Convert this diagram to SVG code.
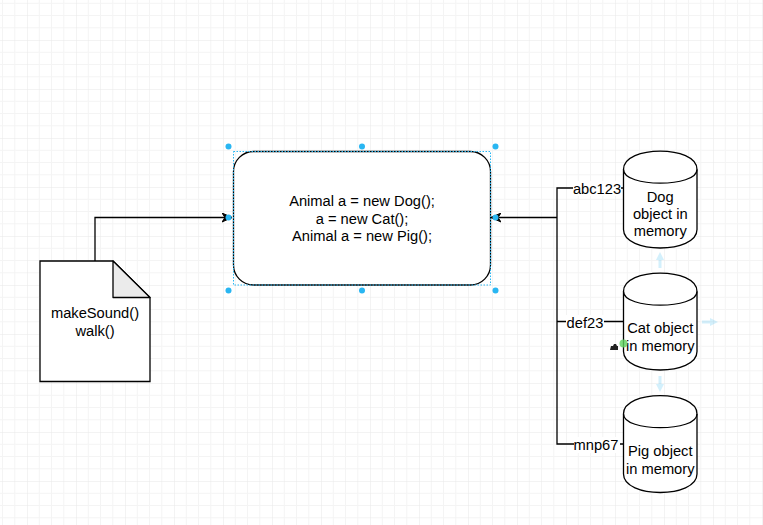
<svg xmlns="http://www.w3.org/2000/svg" width="763" height="525" viewBox="0 0 763 525">
<defs>
<pattern id="grid" x="27" y="40" width="49" height="49" patternUnits="userSpaceOnUse">
<path d="M12.25,0V49M24.5,0V49M36.75,0V49M0,12.25H49M0,24.5H49M0,36.75H49" stroke="#f4f4f4" stroke-width="1" fill="none"/>
<path d="M0,0V49M0,0H49" stroke="#e8e8e8" stroke-width="1" fill="none"/>
</pattern>
<marker id="arr" markerWidth="12" markerHeight="10" refX="10" refY="5" orient="auto" markerUnits="userSpaceOnUse">
<path d="M0,0.5 L10,5 L0,9.5 L3,5 Z" fill="#000" stroke="#000" stroke-width="1"/>
</marker>
<marker id="hint" markerWidth="8" markerHeight="8" refX="4" refY="4" orient="auto" markerUnits="userSpaceOnUse">
<path d="M0,0 L8,4 L0,8 Z" fill="#29b6f2"/>
</marker>
</defs>
<style>
.shape{fill:#fff;stroke:#000;stroke-width:1.3}
.edge{fill:none;stroke:#000;stroke-width:1.3}
.t{font-family:"Liberation Sans",Arial,sans-serif;font-size:14.7px;fill:#000;text-anchor:middle}
.lbl{fill:#fff}
.handle{fill:#29b6f2}
.sel{fill:none;stroke:#29b6f2;stroke-width:1;stroke-dasharray:1.5 1.5}
.hint{stroke:#29b6f2;stroke-width:3;opacity:0.2;fill:none}
</style>
<rect x="0" y="0" width="763" height="525" fill="#fff"/>
<rect x="0" y="0" width="763" height="525" fill="url(#grid)"/>

<g id="connectors">
<path class="edge" d="M95,261 V217.5 H232" marker-end="url(#arr)"/>
<path class="edge" d="M557,217.5 H491" marker-end="url(#arr)"/>
<path class="edge" d="M623,188 H557 V444 H623"/>
<path class="edge" d="M557,321.5 H623"/>
<rect class="lbl" x="573" y="181" width="48" height="15"/>
<text class="t" x="597" y="194">abc123</text>
<rect class="lbl" x="566" y="315" width="38" height="15"/>
<text class="t" x="585" y="327.5">def23</text>
<rect class="lbl" x="574" y="437" width="46" height="16"/>
<text class="t" x="596" y="450">mnp67</text>
</g>

<g id="interface-doc">
<path class="shape" d="M40,261 H113 L150,297.5 V381.5 H40 Z"/>
<path d="M113,261 L150,297.5 H113 Z" fill="#ebebeb" stroke="#000" stroke-width="1.3" stroke-linejoin="round"/>
<text class="t" x="95" y="318">makeSound()</text>
<text class="t" x="95" y="336">walk()</text>
</g>

<g id="code-box">
<rect class="shape" x="233.5" y="151.5" width="257" height="133.5" rx="20" ry="20"/>
<text class="t" x="362" y="206">Animal a = new Dog();</text>
<text class="t" x="362" y="223.5">a = new Cat();</text>
<text class="t" x="362" y="241">Animal a = new Pig();</text>
<rect class="sel" x="233.5" y="151.5" width="257" height="133.5"/>
<circle class="handle" cx="228.5" cy="146.5" r="3"/>
<circle class="handle" cx="362" cy="146.5" r="3"/>
<circle class="handle" cx="495.5" cy="146.5" r="3"/>
<circle class="handle" cx="228.5" cy="217.5" r="3"/>
<circle class="handle" cx="495.5" cy="217.5" r="3"/>
<circle class="handle" cx="228.5" cy="290.5" r="3"/>
<circle class="handle" cx="362" cy="290.5" r="3"/>
<circle class="handle" cx="495.5" cy="290.5" r="3"/>
</g>

<g id="dog-cyl" transform="translate(623.5,151)">
<path class="shape" d="M0,18.4 C0,-6.1 73.5,-6.1 73.5,18.4 V78.6 C73.5,103.1 0,103.1 0,78.6 Z"/>
<path class="edge" d="M0,18.4 C0,36.8 73.5,36.8 73.5,18.4"/>
<text class="t" x="36.75" y="51">Dog</text>
<text class="t" x="36.75" y="68">object in</text>
<text class="t" x="36.75" y="85">memory</text>
</g>

<g id="cat-cyl" transform="translate(623.5,273)">
<path class="shape" d="M0,18.4 C0,-6.1 73.5,-6.1 73.5,18.4 V78.6 C73.5,103.1 0,103.1 0,78.6 Z"/>
<path class="edge" d="M0,18.4 C0,36.8 73.5,36.8 73.5,18.4"/>
<text class="t" x="36.75" y="60">Cat object</text>
<text class="t" x="36.75" y="77.5">in memory</text>
</g>

<g id="pig-cyl" transform="translate(623.5,395.5)">
<path class="shape" d="M0,18.4 C0,-6.1 73.5,-6.1 73.5,18.4 V78.6 C73.5,103.1 0,103.1 0,78.6 Z"/>
<path class="edge" d="M0,18.4 C0,36.8 73.5,36.8 73.5,18.4"/>
<text class="t" x="36.75" y="60.5">Pig object</text>
<text class="t" x="36.75" y="78">in memory</text>
</g>

<g id="hover-hints">
<path class="hint" d="M660,268 V256" marker-end="url(#hint)"/>
<path class="hint" d="M702,322 H714" marker-end="url(#hint)"/>
<path class="hint" d="M660,376 V388" marker-end="url(#hint)"/>
<circle cx="623.5" cy="343.5" r="4" fill="#5fd35f" opacity="0.8"/>
<path d="M610,350 L611,346 L613,346 L614,344 L616,344 L617,346 L618,346 L618,350 Z" fill="#222"/>
</g>
</svg>
